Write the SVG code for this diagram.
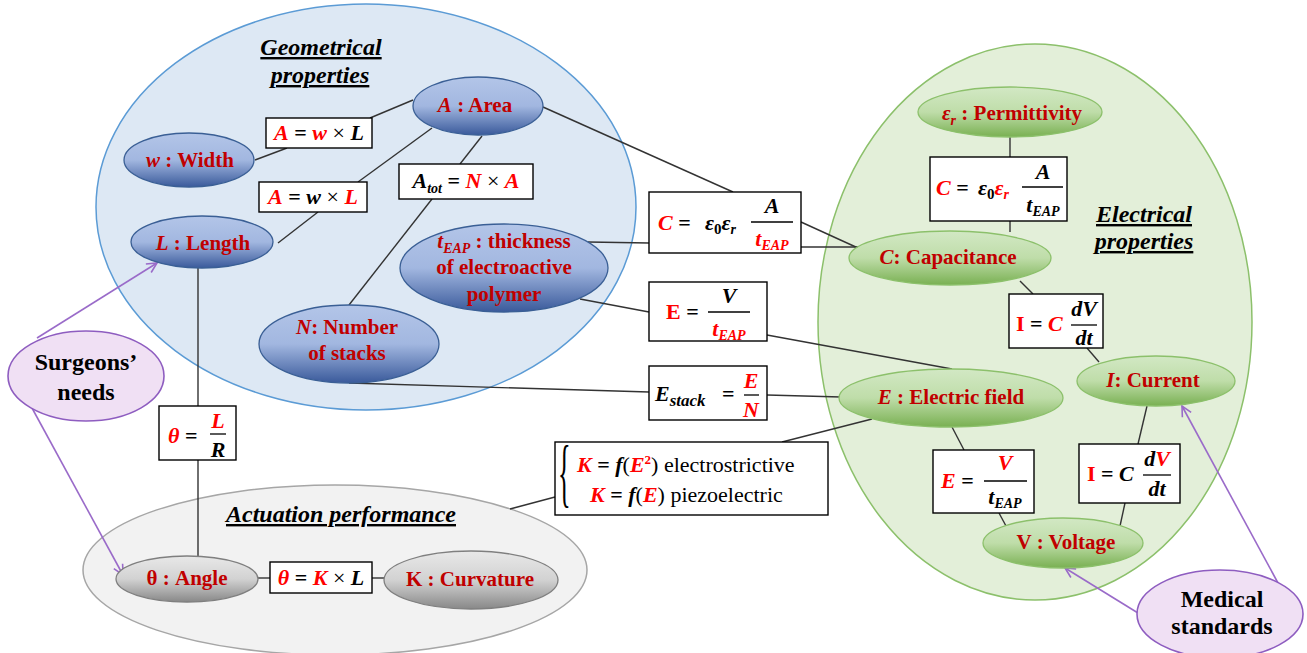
<svg xmlns="http://www.w3.org/2000/svg" width="1307" height="653" viewBox="0 0 1307 653">
<defs>
<linearGradient id="gBlue" x1="0" y1="0" x2="0" y2="1">
<stop offset="0" stop-color="#B3C5E8"/><stop offset="0.5" stop-color="#A2B7E0"/><stop offset="1" stop-color="#3A5A9B"/>
</linearGradient>
<linearGradient id="gGreen" x1="0" y1="0" x2="0" y2="1">
<stop offset="0" stop-color="#D2E8C4"/><stop offset="0.5" stop-color="#BFDDA9"/><stop offset="1" stop-color="#79B052"/>
</linearGradient>
<linearGradient id="gGray" x1="0" y1="0" x2="0" y2="1">
<stop offset="0" stop-color="#E8E8E8"/><stop offset="0.5" stop-color="#D2D2D2"/><stop offset="1" stop-color="#888888"/>
</linearGradient>
<marker id="arr" viewBox="0 0 12 12" refX="11" refY="6" markerWidth="12" markerHeight="12" markerUnits="userSpaceOnUse" orient="auto">
<path d="M1,1 L11,6 L1,11" fill="none" stroke="#9A6BC9" stroke-width="1.6"/>
</marker>
<style>
text{font-family:"Liberation Serif","Times New Roman",Times,"DejaVu Serif",serif}
.nl{font-weight:bold;font-size:21px;fill:#C00000;text-anchor:middle}
.it{font-style:italic}
.m{font-weight:bold;font-style:italic;font-size:22px;fill:#000}
.mid{text-anchor:middle}
.r{fill:#FF0000}
.op{font-style:normal}
.x{font-style:normal;font-weight:normal}
.rm{font-style:normal;font-weight:normal}
.sub{font-size:14px}
.sub2{font-size:17px}
.box{fill:#fff;stroke:#000;stroke-width:1.4}
.ln{stroke:#333;stroke-width:1.4;fill:none}
.fr{stroke:#000;stroke-width:1.3}
.pa{stroke:#9A6BC9;stroke-width:1.6;fill:none;marker-end:url(#arr)}
.title{font-weight:bold;font-style:italic;font-size:24px;fill:#000;text-anchor:middle;text-decoration:underline}
.pl{font-weight:bold;font-size:24px;fill:#000;text-anchor:middle}
.bn{fill:url(#gBlue);stroke:#3A5F95;stroke-width:1.3}
.gn{fill:url(#gGreen);stroke:#8CC06B;stroke-width:1.3}
.yn{fill:url(#gGray);stroke:#7F7F7F;stroke-width:1.3}
.pn{fill:#F0E0F4;stroke:#8E5DC0;stroke-width:1.6}
</style>
</defs>
<rect width="1307" height="653" fill="#fff"/>

<g id="geometrical-properties">
<ellipse cx="366" cy="207" rx="270" ry="203" fill="#DDE8F4" stroke="#5B9BD5" stroke-width="1.5"/>
<text class="title" x="321" y="55">Geometrical</text>
<text class="title" x="320" y="83">properties</text>
</g>
<g id="electrical-properties">
<ellipse cx="1035" cy="322" rx="217" ry="278" fill="#E3EFD9" stroke="#8CC06B" stroke-width="1.5"/>
<text class="title" x="1144" y="222">Electrical</text>
<text class="title" x="1144" y="249">properties</text>
</g>
<g id="actuation-performance">
<ellipse cx="335" cy="570" rx="252" ry="85" fill="#F2F2F2" stroke="#A6A6A6" stroke-width="1.5"/>
<text class="title" x="341" y="522">Actuation performance</text>
</g>

<g id="connectors">
<line class="ln" x1="413" y1="100" x2="370" y2="118"/>
<line class="ln" x1="287" y1="148" x2="255" y2="160"/>
<line class="ln" x1="432" y1="128" x2="358" y2="182"/>
<line class="ln" x1="318" y1="212" x2="278" y2="243"/>
<line class="ln" x1="482" y1="136" x2="460" y2="164"/>
<line class="ln" x1="432" y1="199" x2="349" y2="305"/>
<line class="ln" x1="543" y1="107" x2="733" y2="192"/>
<line class="ln" x1="588" y1="242" x2="649" y2="243"/>
<line class="ln" x1="801" y1="222" x2="858" y2="248"/>
<line class="ln" x1="801" y1="247" x2="858" y2="247"/>
<line class="ln" x1="1010" y1="137" x2="1010" y2="157"/>
<line class="ln" x1="1010" y1="221" x2="1010" y2="232"/>
<line class="ln" x1="580" y1="299" x2="649" y2="312"/>
<line class="ln" x1="767" y1="335" x2="952" y2="369"/>
<line class="ln" x1="349" y1="383" x2="649" y2="392"/>
<line class="ln" x1="767" y1="395" x2="841" y2="397"/>
<line class="ln" x1="782" y1="442" x2="872" y2="419"/>
<line class="ln" x1="510" y1="509" x2="555" y2="497"/>
<line class="ln" x1="1020" y1="281" x2="1033" y2="294"/>
<line class="ln" x1="1087" y1="348" x2="1099" y2="362"/>
<line class="ln" x1="952" y1="427" x2="964" y2="450"/>
<line class="ln" x1="999" y1="513" x2="1006" y2="526"/>
<line class="ln" x1="1147" y1="406" x2="1138" y2="444"/>
<line class="ln" x1="1125" y1="503" x2="1120" y2="526"/>
<line class="ln" x1="198" y1="268" x2="198" y2="406"/>
<line class="ln" x1="198" y1="460" x2="198" y2="557"/>
<line class="ln" x1="258" y1="578" x2="270" y2="578"/>
<line class="ln" x1="372" y1="578" x2="384" y2="578"/>
<line class="pa" x1="37" y1="338" x2="157" y2="263"/>
<line class="pa" x1="32" y1="408" x2="123" y2="575"/>
<line class="pa" x1="1138" y1="613" x2="1065" y2="568"/>
<line class="pa" x1="1278" y1="583" x2="1182" y2="406"/>
</g>

<g id="node-area">
<ellipse class="bn" cx="478" cy="106" rx="65" ry="29"/>
<text class="nl" x="475" y="112"><tspan class="it">A</tspan> : Area</text>
</g>
<g id="node-width">
<ellipse class="bn" cx="189" cy="160" rx="65" ry="27"/>
<text class="nl" x="190" y="167"><tspan class="it">w</tspan> : Width</text>
</g>
<g id="node-length">
<ellipse class="bn" cx="202" cy="242" rx="71" ry="26"/>
<text class="nl" x="203" y="250"><tspan class="it">L</tspan> : Length</text>
</g>
<g id="node-thickness">
<ellipse class="bn" cx="504" cy="268" rx="104" ry="44"/>
<text class="nl" x="504" y="248"><tspan class="it">t</tspan><tspan class="it" font-size="14" dy="5">EAP</tspan><tspan dy="-5"> : thickness</tspan></text>
<text class="nl" x="504" y="274">of electroactive</text>
<text class="nl" x="504" y="301">polymer</text>
</g>
<g id="node-stacks">
<ellipse class="bn" cx="349" cy="344" rx="90" ry="39"/>
<text class="nl" x="347" y="334"><tspan class="it">N</tspan>: Number</text>
<text class="nl" x="347" y="360">of stacks</text>
</g>

<g id="node-permittivity">
<ellipse class="gn" cx="1010" cy="112" rx="92" ry="25"/>
<text class="nl" x="1012" y="120"><tspan class="it">ε</tspan><tspan class="it" font-size="14" dy="5">r</tspan><tspan dy="-5"> : Permittivity</tspan></text>
</g>
<g id="node-capacitance">
<ellipse class="gn" cx="950" cy="258" rx="101" ry="27"/>
<text class="nl" x="948" y="264"><tspan class="it">C</tspan>: Capacitance</text>
</g>
<g id="node-electric-field">
<ellipse class="gn" cx="951" cy="398" rx="112" ry="29"/>
<text class="nl" x="951" y="404"><tspan class="it">E</tspan> : Electric field</text>
</g>
<g id="node-current">
<ellipse class="gn" cx="1156" cy="381" rx="79" ry="25"/>
<text class="nl" x="1153" y="387"><tspan class="it">I</tspan>: Current</text>
</g>
<g id="node-voltage">
<ellipse class="gn" cx="1063" cy="543" rx="80" ry="25"/>
<text class="nl" x="1066" y="549">V : Voltage</text>
</g>

<g id="node-angle">
<ellipse class="yn" cx="187" cy="579" rx="71" ry="23"/>
<text class="nl" x="187" y="585">θ : Angle</text>
</g>
<g id="node-curvature">
<ellipse class="yn" cx="471" cy="580" rx="87" ry="29"/>
<text class="nl" x="470" y="586">K : Curvature</text>
</g>

<g id="node-surgeons-needs">
<ellipse class="pn" cx="86" cy="376" rx="78" ry="45"/>
<text class="pl" x="86" y="370">Surgeons’</text>
<text class="pl" x="86" y="400">needs</text>
</g>
<g id="node-medical-standards">
<ellipse class="pn" cx="1220" cy="614" rx="83" ry="44"/>
<text class="pl" x="1222" y="607">Medical</text>
<text class="pl" x="1222" y="634">standards</text>
</g>

<g id="eq-area-1">
<rect class="box" x="266" y="118" width="106" height="30"/>
<text class="m mid" x="319" y="140"><tspan class="r">A</tspan><tspan class="op"> = </tspan><tspan class="r">w</tspan><tspan class="x"> × </tspan>L</text>
</g>
<g id="eq-area-2">
<rect class="box" x="259" y="182" width="108" height="30"/>
<text class="m mid" x="313" y="204"><tspan class="r">A</tspan><tspan class="op"> = </tspan>w<tspan class="x"> × </tspan><tspan class="r">L</tspan></text>
</g>
<g id="eq-area-total">
<rect class="box" x="399" y="164" width="134" height="35"/>
<text class="m mid" x="466" y="188">A<tspan class="sub" dy="5">tot</tspan><tspan class="op" dy="-5"> = </tspan><tspan class="r">N</tspan><tspan class="x"> × </tspan><tspan class="r">A</tspan></text>
</g>
<g id="eq-capacitance-1">
<rect class="box" x="649" y="192" width="152" height="61"/>
<text class="m" x="658" y="230"><tspan class="r">C</tspan><tspan class="op"> =</tspan><tspan x="705">ε</tspan><tspan class="op" font-size="15" dy="4">0</tspan><tspan dy="-4">ε</tspan><tspan class="sub" dy="4">r</tspan></text>
<line class="fr" x1="751" y1="222" x2="793" y2="222"/>
<text class="m mid" x="772" y="213">A</text>
<text class="m mid r" x="772" y="246">t<tspan class="sub" dy="4">EAP</tspan></text>
</g>
<g id="eq-capacitance-2">
<rect class="box" x="930" y="157" width="137" height="64"/>
<text class="m" x="936" y="195"><tspan class="r">C</tspan><tspan class="op"> =</tspan><tspan x="978">ε</tspan><tspan class="op" font-size="15" dy="4">0</tspan><tspan class="r" dy="-4">ε</tspan><tspan class="sub r" dy="4">r</tspan></text>
<line class="fr" x1="1022" y1="187" x2="1063" y2="187"/>
<text class="m mid" x="1043" y="179">A</text>
<text class="m mid" x="1043" y="212">t<tspan class="sub" dy="4">EAP</tspan></text>
</g>
<g id="eq-field-1">
<rect class="box" x="649" y="282" width="118" height="59"/>
<text class="m" x="666" y="319"><tspan class="r op">E</tspan><tspan class="op"> = </tspan></text>
<line class="fr" x1="708" y1="312" x2="750" y2="312"/>
<text class="m mid" x="729" y="303">V</text>
<text class="m mid r" x="729" y="336">t<tspan class="sub" dy="4">EAP</tspan></text>
</g>
<g id="eq-field-stack">
<rect class="box" x="649" y="366" width="118" height="54"/>
<text class="m" x="655" y="401">E<tspan class="sub2" dy="5">stack</tspan><tspan class="op" dy="-5" x="722">=</tspan></text>
<line class="fr" x1="744" y1="395" x2="759" y2="395"/>
<text class="m mid r" x="751" y="388">E</text>
<text class="m mid r" x="751" y="417">N</text>
</g>
<g id="eq-angle-length">
<rect class="box" x="159" y="406" width="77" height="54"/>
<text class="m" x="168" y="443"><tspan class="r">θ</tspan><tspan class="op"> = </tspan></text>
<line class="fr" x1="210" y1="434" x2="226" y2="434"/>
<text class="m mid r" x="218" y="428">L</text>
<text class="m mid" x="218" y="457">R</text>
</g>
<g id="eq-angle-curvature">
<rect class="box" x="270" y="562" width="102" height="31"/>
<text class="m mid" x="321" y="585"><tspan class="r">θ</tspan><tspan class="op"> = </tspan><tspan class="r">K</tspan><tspan class="x"> × </tspan>L</text>
</g>
<g id="eq-field-2">
<rect class="box" x="933" y="450" width="101" height="63"/>
<text class="m" x="941" y="488"><tspan class="r">E</tspan><tspan class="op"> = </tspan></text>
<line class="fr" x1="984" y1="481" x2="1027" y2="481"/>
<text class="m mid r" x="1005" y="470">V</text>
<text class="m mid" x="1005" y="504">t<tspan class="sub" dy="4">EAP</tspan></text>
</g>
<g id="eq-current-1">
<rect class="box" x="1009" y="294" width="94" height="54"/>
<text class="m" x="1016" y="331"><tspan class="r op">I</tspan><tspan class="op"> = </tspan><tspan class="r">C</tspan></text>
<line class="fr" x1="1071" y1="325" x2="1097" y2="325"/>
<text class="m mid" x="1084" y="316">dV</text>
<text class="m mid" x="1084" y="345">dt</text>
</g>
<g id="eq-current-2">
<rect class="box" x="1079" y="444" width="101" height="59"/>
<text class="m" x="1087" y="481"><tspan class="r op">I</tspan><tspan class="op"> = </tspan>C</text>
<line class="fr" x1="1143" y1="475" x2="1171" y2="475"/>
<text class="m mid" x="1157" y="466">d<tspan class="r">V</tspan></text>
<text class="m mid" x="1157" y="496">dt</text>
</g>
<g id="eq-curvature-field">
<rect class="box" x="555" y="442" width="273" height="73"/>
<text x="0" y="0" transform="translate(558,498) scale(0.6,1.72)" font-size="44" fill="#000">{</text>
<text class="m" x="577" y="472" font-size="22"><tspan class="r">K</tspan><tspan class="op"> = </tspan>f<tspan class="rm">(</tspan><tspan class="r">E</tspan><tspan class="r op" font-size="13" dy="-8">2</tspan><tspan class="rm" dy="8">)</tspan><tspan class="rm"> electrostrictive</tspan></text>
<text class="m" x="590" y="502" font-size="22"><tspan class="r">K</tspan><tspan class="op"> = </tspan>f<tspan class="rm">(</tspan><tspan class="r">E</tspan><tspan class="rm">)</tspan><tspan class="rm"> piezoelectric</tspan></text>
</g>
</svg>
